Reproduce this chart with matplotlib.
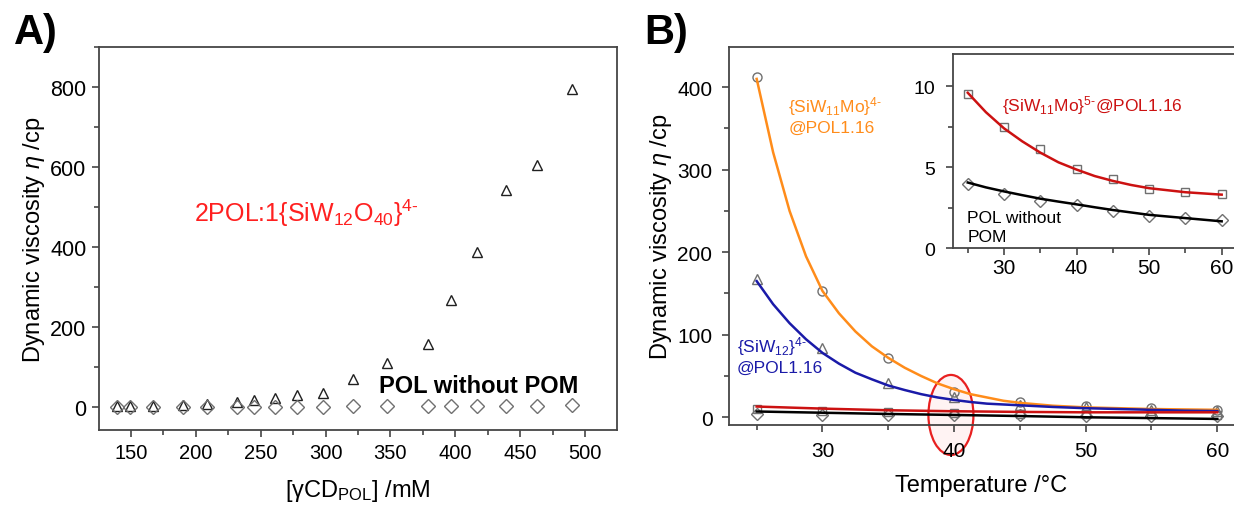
import matplotlib
matplotlib.use("Agg")
import matplotlib.pyplot as plt
from matplotlib.patches import Ellipse
from matplotlib.ticker import MultipleLocator

plt.rcParams["font.family"] = ["Liberation Sans", "DejaVu Sans"]
plt.rcParams["mathtext.fontset"] = "custom"
plt.rcParams["mathtext.rm"] = "Liberation Sans"
plt.rcParams["mathtext.it"] = "Liberation Sans:italic"
plt.rcParams["mathtext.bf"] = "Liberation Sans:bold"

# ---- A) viscosity vs [gammaCD_POL] ----
cd_pol = [139, 149, 167, 190, 209, 232, 245, 261, 278, 298, 321, 347, 379, 397, 417, 439, 463, 490]
visc_pom = [2, 3, 3, 5, 7, 12, 17, 22, 31, 36, 71, 111, 158, 267, 388, 543, 605, 794]
visc_no_pom = [0.5, 0.6, 0.7, 0.8, 0.9, 1.0, 1.1, 1.3, 1.4, 1.6, 1.8, 2.1, 2.4, 2.6, 2.9, 3.3, 3.8, 4.5]

# ---- B) viscosity vs temperature ----
temp = [25, 30, 35, 40, 45, 50, 55, 60]
visc_siw11mo4 = [412, 153, 72, 31, 19, 14, 11, 9]
visc_siw12 = [167, 84, 41, 24, 15, 12, 9, 8]
visc_siw11mo5 = [9.55, 7.48, 6.14, 4.88, 4.28, 3.66, 3.47, 3.31]
visc_pol = [3.97, 3.35, 2.93, 2.69, 2.27, 1.96, 1.86, 1.76]

# fitted curves
fit_t_fine = [25, 26.25, 27.5, 28.75, 30, 31.25, 32.5, 33.75, 35, 36.25, 37.5, 38.75, 40,
              41.25, 42.5, 43.75, 45, 47.5, 50, 52.5, 55, 57.5, 60]
fit_siw11mo4 = [410, 321, 250, 195, 153, 126, 104, 86, 72, 60, 50, 41, 34,
                28, 24, 20, 17.5, 14, 12, 11, 10, 9.5, 9]
fit_siw12 = [165, 137, 114, 94.5, 78, 65, 54, 46, 38.5, 33, 28, 24, 21,
             18.5, 16.5, 15.5, 14.5, 12.5, 11, 10, 9, 8, 7.5]
fit_siw11mo5_main = [13, 10.5, 8.5, 7.3, 6.5, 6, 6, 6]
fit_pol_main = [7, 5.5, 4, 2.8, 1.5, 0, -1, -2]
fit_t_inset = [25, 27.5, 30, 32.5, 35, 37.5, 40, 42.5, 45, 47.5, 50, 55, 60]
fit_siw11mo5 = [9.6, 8.4, 7.4, 6.6, 5.9, 5.3, 4.85, 4.45, 4.15, 3.9, 3.7, 3.45, 3.3]
fit_pol = [4.05, 3.75, 3.5, 3.27, 3.05, 2.87, 2.7, 2.52, 2.35, 2.2, 2.05, 1.85, 1.65]

spine_c = "#454545"
mk_c = "#707070"
orange = "#ff8c1a"
blue = "#1a1aa8"
red = "#cc1111"


def style_axes(ax, lab_size=14.5, xpad=4, ypad=4):
    for s in ax.spines.values():
        s.set_color(spine_c)
        s.set_linewidth(1.3)
    ax.tick_params(which="major", direction="out", length=5, width=1.2,
                   color=spine_c, labelsize=lab_size)
    ax.tick_params(axis="x", which="major", pad=xpad)
    ax.tick_params(axis="y", which="major", pad=ypad)
    ax.tick_params(which="minor", direction="out", length=3.5, width=1.2, color=spine_c)


fig = plt.figure(figsize=(12.34, 5.06), dpi=100)

# ---------- panel A ----------
axA = fig.add_axes([0.0802, 0.1482, 0.4198, 0.757])
axA.plot(cd_pol, visc_pom, ls="none", marker="^", ms=7, mfc="none", mec="#202020", mew=1.0)
axA.plot(cd_pol, visc_no_pom, ls="none", marker="D", ms=7.5, mfc="none", mec=mk_c, mew=1.0)
axA.set_xlim(125.4, 524.6)
axA.set_ylim(-57, 900)
axA.xaxis.set_major_locator(MultipleLocator(50))
axA.xaxis.set_minor_locator(MultipleLocator(25))
axA.yaxis.set_major_locator(MultipleLocator(200))
axA.yaxis.set_minor_locator(MultipleLocator(100))
style_axes(axA, xpad=4, ypad=4)
axA.tick_params(axis="y", labelsize=15.5)
axA.set_xlabel(r"[γCD$_{\mathrm{POL}}$] /mM", fontsize=17, labelpad=11)
axA.set_ylabel(r"Dynamic viscosity $\eta$ /cp", fontsize=17, labelpad=2)
axA.text(199, 487, r"2POL:1{SiW$_{12}$O$_{40}$}$^{\text{4-}}$", color="#ff2020",
         fontsize=18, ha="left", va="center")
axA.text(341, 55, "POL without POM", color="black", fontsize=17,
         fontweight="bold", ha="left", va="center")
fig.text(0.011, 0.935, "A)", fontsize=30, fontweight="bold", va="center")

# ---------- panel B ----------
axB = fig.add_axes([0.5908, 0.1587, 0.4092, 0.747])
ell = Ellipse((39.76, 2.8), 3.42, 97, facecolor=(1, 0.85, 0.85, 0.3),
              edgecolor="#e82020", lw=1.6, clip_on=False, zorder=1.5)
axB.add_patch(ell)
axB.plot(temp, visc_siw11mo4, ls="none", marker="o", ms=6.5, mfc="none", mec=mk_c, mew=1.0)
axB.plot(temp, visc_siw12, ls="none", marker="^", ms=7, mfc="none", mec=mk_c, mew=1.0)
axB.plot(temp, visc_siw11mo5, ls="none", marker="s", ms=5.5, mfc="none", mec=mk_c, mew=1.0)
axB.plot(temp, visc_pol, ls="none", marker="D", ms=6.5, mfc="none", mec=mk_c, mew=1.0)
axB.plot(fit_t_fine, fit_siw11mo4, color=orange, lw=1.8)
axB.plot(fit_t_fine, fit_siw12, color=blue, lw=1.8)
axB.plot(temp, fit_siw11mo5_main, color=red, lw=1.8)
axB.plot(temp, fit_pol_main, color="black", lw=1.8)
axB.set_xlim(22.9, 61.27)
axB.set_ylim(-9, 449)
axB.xaxis.set_major_locator(MultipleLocator(10))
axB.xaxis.set_minor_locator(MultipleLocator(5))
axB.yaxis.set_major_locator(MultipleLocator(100))
axB.yaxis.set_minor_locator(MultipleLocator(50))
style_axes(axB, lab_size=15, xpad=7, ypad=7)
axB.spines["right"].set_visible(False)
axB.set_xlabel("Temperature /°C", fontsize=17, labelpad=10)
axB.set_ylabel(r"Dynamic viscosity $\eta$ /cp", fontsize=17, labelpad=2)
axB.text(27.4, 367, "{SiW$_{11}$Mo}$^{\\text{4-}}$\n@POL1.16", color=orange,
         fontsize=12.5, ha="left", va="center", linespacing=1.3)
axB.text(23.5, 76, "{SiW$_{12}$}$^{\\text{4-}}$\n@POL1.16", color=blue,
         fontsize=12.5, ha="left", va="center", linespacing=1.3)
fig.text(0.522, 0.935, "B)", fontsize=30, fontweight="bold", va="center")

# ---------- inset ----------
axI = fig.add_axes([0.7725, 0.5079, 0.2275, 0.3834])
axI.plot(temp, visc_siw11mo5, ls="none", marker="s", ms=5.5, mfc="none", mec=mk_c, mew=1.0)
axI.plot(temp, visc_pol, ls="none", marker="D", ms=6.5, mfc="none", mec=mk_c, mew=1.0)
axI.plot(fit_t_inset, fit_siw11mo5, color=red, lw=1.8)
axI.plot(fit_t_inset, fit_pol, color="black", lw=1.8)
axI.set_xlim(23.0, 61.7)
axI.set_ylim(0, 12)
axI.xaxis.set_major_locator(MultipleLocator(10))
axI.xaxis.set_minor_locator(MultipleLocator(5))
axI.yaxis.set_major_locator(MultipleLocator(5))
axI.yaxis.set_minor_locator(MultipleLocator(2.5))
style_axes(axI, lab_size=14, xpad=2, ypad=8)
axI.tick_params(axis="x", labelsize=15)
axI.spines["right"].set_visible(False)
axI.text(29.7, 8.9, "{SiW$_{11}$Mo}$^{\\text{5-}}$@POL1.16", color=red,
         fontsize=12.5, ha="left", va="center")
axI.text(24.95, 1.3, "POL without\nPOM", color="black", fontsize=12.5,
         ha="left", va="center", linespacing=1.3)

fig.savefig("out.png", dpi=100)
